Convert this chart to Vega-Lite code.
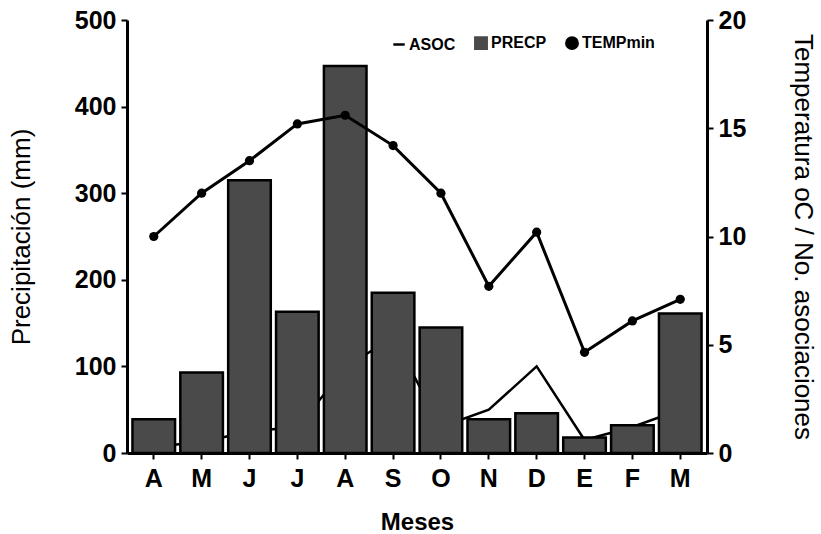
{
  "$schema": "https://vega.github.io/schema/vega-lite/v6.json",
  "width": 580,
  "height": 433,
  "autosize": {"type": "none"},
  "padding": {"left": 127, "top": 20, "right": 114, "bottom": 81},
  "background": "white",
  "config": {
    "view": {"stroke": null},
    "font": "Liberation Sans",
    "axis": {
      "grid": false,
      "domainColor": "black",
      "domainWidth": 3,
      "tickColor": "black",
      "tickWidth": 2,
      "tickSize": 6,
      "labelFont": "Liberation Sans",
      "labelFontWeight": "bold",
      "labelFontSize": 25,
      "labelColor": "black",
      "titleFont": "Liberation Sans",
      "titleFontSize": 26,
      "titleFontWeight": "normal",
      "titleColor": "black"
    }
  },
  "data": {
    "values": [
      {"mes": "Abr", "series": "PRECP", "value": 39},
      {"mes": "May", "series": "PRECP", "value": 93},
      {"mes": "Jun", "series": "PRECP", "value": 315},
      {"mes": "Jul", "series": "PRECP", "value": 163},
      {"mes": "Ago", "series": "PRECP", "value": 447},
      {"mes": "Sep", "series": "PRECP", "value": 185},
      {"mes": "Oct", "series": "PRECP", "value": 145},
      {"mes": "Nov", "series": "PRECP", "value": 39},
      {"mes": "Dic", "series": "PRECP", "value": 46},
      {"mes": "Ene", "series": "PRECP", "value": 18},
      {"mes": "Feb", "series": "PRECP", "value": 32},
      {"mes": "Mar", "series": "PRECP", "value": 161},
      {"mes": "Abr", "series": "TEMPmin", "value": 10.0},
      {"mes": "May", "series": "TEMPmin", "value": 12.0},
      {"mes": "Jun", "series": "TEMPmin", "value": 13.5},
      {"mes": "Jul", "series": "TEMPmin", "value": 15.2},
      {"mes": "Ago", "series": "TEMPmin", "value": 15.6},
      {"mes": "Sep", "series": "TEMPmin", "value": 14.2},
      {"mes": "Oct", "series": "TEMPmin", "value": 12.0},
      {"mes": "Nov", "series": "TEMPmin", "value": 7.7},
      {"mes": "Dic", "series": "TEMPmin", "value": 10.2},
      {"mes": "Ene", "series": "TEMPmin", "value": 4.65},
      {"mes": "Feb", "series": "TEMPmin", "value": 6.1},
      {"mes": "Mar", "series": "TEMPmin", "value": 7.1},
      {"mes": "Abr", "series": "ASOC", "value": 0.3},
      {"mes": "May", "series": "ASOC", "value": 0.5},
      {"mes": "Jun", "series": "ASOC", "value": 1.0},
      {"mes": "Jul", "series": "ASOC", "value": 1.2},
      {"mes": "Ago", "series": "ASOC", "value": 3.9},
      {"mes": "Sep", "series": "ASOC", "value": 5.4},
      {"mes": "Oct", "series": "ASOC", "value": 1.2},
      {"mes": "Nov", "series": "ASOC", "value": 2.0},
      {"mes": "Dic", "series": "ASOC", "value": 4.0},
      {"mes": "Ene", "series": "ASOC", "value": 0.6},
      {"mes": "Feb", "series": "ASOC", "value": 1.2},
      {"mes": "Mar", "series": "ASOC", "value": 2.0}
    ]
  },
  "encoding": {
    "x": {
      "field": "mes",
      "type": "ordinal",
      "sort": ["Abr","May","Jun","Jul","Ago","Sep","Oct","Nov","Dic","Ene","Feb","Mar"],
      "scale": {"paddingInner": 0.11, "paddingOuter": 0.114},
      "axis": {
        "title": "Meses",
        "titleFontWeight": "bold",
        "titleFontSize": 24,
        "labelAngle": 0,
        "labelPadding": 7,
        "titlePadding": 19,
        "labelExpr": "substring(datum.label, 0, 1)"
      }
    },
    "color": {
      "field": "series",
      "type": "nominal",
      "scale": {"domain": ["ASOC", "PRECP", "TEMPmin"], "range": ["black", "#4a4a4a", "black"]},
      "legend": {
        "title": null,
        "orient": "none",
        "legendX": 264,
        "legendY": 15,
        "direction": "horizontal",
        "labelFont": "Liberation Sans",
        "labelFontWeight": "bold",
        "labelFontSize": 16,
        "labelColor": "black",
        "labelOffset": 2,
        "columnPadding": 14,
        "symbolSize": 130,
        "symbolStrokeWidth": 2.5,
        "symbolStrokeColor": "black"
      }
    }
  },
  "layer": [
    {
      "transform": [{"filter": "datum.series == 'ASOC'"}],
      "mark": {"type": "line", "strokeWidth": 2.5},
      "encoding": {
        "y": {"field": "value", "type": "quantitative", "scale": {"domain": [0, 20], "nice": false}, "axis": null}
      }
    },
    {
      "transform": [{"filter": "datum.series == 'PRECP'"}],
      "mark": {"type": "bar", "stroke": "black", "strokeWidth": 2.5},
      "encoding": {
        "y": {
          "field": "value",
          "type": "quantitative",
          "scale": {"domain": [0, 500], "nice": false},
          "axis": {"orient": "left", "title": "Precipitación (mm)", "values": [0, 100, 200, 300, 400, 500], "labelPadding": 5, "titlePadding": 40}
        }
      }
    },
    {
      "transform": [{"filter": "datum.series == 'TEMPmin'"}],
      "mark": {"type": "line", "strokeWidth": 3},
      "encoding": {
        "y": {
          "field": "value",
          "type": "quantitative",
          "scale": {"domain": [0, 20], "nice": false},
          "axis": {"orient": "right", "title": "Temperatura oC / No. asociaciones", "values": [0, 5, 10, 15, 20], "labelPadding": 5, "titlePadding": 44}
        }
      }
    },
    {
      "transform": [{"filter": "datum.series == 'TEMPmin'"}],
      "mark": {"type": "point", "filled": true, "size": 85, "opacity": 1},
      "encoding": {
        "y": {"field": "value", "type": "quantitative", "scale": {"domain": [0, 20], "nice": false}, "axis": null},
        "shape": {
          "field": "series",
          "type": "nominal",
          "scale": {"domain": ["ASOC", "PRECP", "TEMPmin"], "range": ["stroke", "square", "circle"]},
          "legend": {
            "title": null,
            "orient": "none",
            "legendX": 264,
            "legendY": 15,
            "direction": "horizontal"
          }
        }
      }
    }
  ],
  "resolve": {"scale": {"y": "independent"}}
}
